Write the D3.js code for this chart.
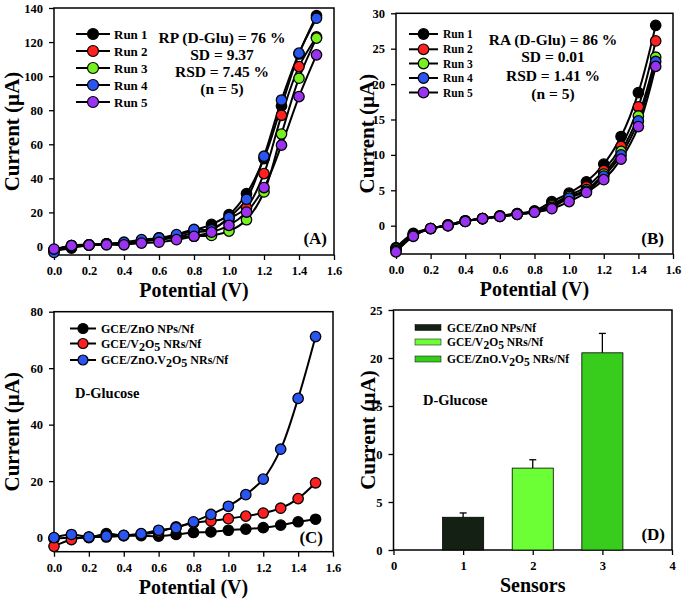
<!DOCTYPE html>
<html><head><meta charset="utf-8">
<script src="https://cdn.jsdelivr.net/npm/d3@7"></script>
<style>body{margin:0;background:#fff}svg{display:block}text{font-family:"Liberation Serif","Times New Roman",serif;font-weight:bold;fill:#000}</style>
</head><body><svg id="c" width="685" height="602"></svg>
<script>
const potentials = [0.0,0.1,0.2,0.3,0.4,0.5,0.6,0.7,0.8,0.9,1.0,1.1,1.2,1.3,1.4,1.5];
const runNames = ["Run 1","Run 2","Run 3","Run 4","Run 5"];
const runColors = ["#000000","#ff2020","#77f020","#2a55f0","#9a33f0"];
// Panel A: repeatability (RP)
const runA1 = [-2.5,-1,0.8,1.5,2,3.5,5,6.5,9.5,13,18.7,31,51.6,82.5,113,135.5];
const runA2 = [-2,0.5,1,1.5,2,3,4.5,5.5,8,10,16.3,22.8,42.8,77,105.6,123];
const runA3 = [-2,0.5,1,1.5,2,3,4,5,6,6.5,9,15.7,32,66,98.8,122.3];
const runA4 = [-3.5,0.5,1,1.5,2.5,4,5,7,10,9.8,17,27.7,53,86,113.5,134];
const runA5 = [-1.5,0.5,0.8,1,1,2,2.5,4,6,8.4,12.4,20.2,34.6,59.5,88,112.5];
// Panel B: reproducibility (RA)
const runB1 = [-3.1,-1.1,-0.4,0.1,0.7,1.0,1.4,1.7,2.1,3.4,4.6,6.2,8.7,12.6,18.8,28.3];
const runB2 = [-3.2,-1.2,-0.4,0.1,0.7,1.0,1.4,1.7,2.0,3.0,4.3,5.5,7.8,11.2,16.8,26.1];
const runB3 = [-3.3,-1.3,-0.4,0.0,0.6,1.0,1.3,1.6,2.0,2.8,4.1,5.1,7.3,10.5,15.5,23.8];
const runB4 = [-3.5,-1.4,-0.4,0.0,0.6,1.0,1.3,1.6,1.9,2.6,3.9,4.9,7.0,10.0,14.8,23.2];
const runB5 = [-3.7,-1.5,-0.4,0.0,0.6,1.0,1.3,1.6,1.9,2.4,3.4,4.7,6.5,9.4,14.0,22.5];
// Panel C: electrodes
const electrodeNames = [["GCE/ZnO NPs/Nf"],["GCE/V","2","O","5"," NRs/Nf"],["GCE/ZnO.V","2","O","5"," NRs/Nf"]];
const electrodeColors = ["#000000","#ff2020","#2a55f0"];
const cZnO = [-0.4,0,0,1.4,0.7,0.7,0.5,1.1,1.8,2,2.6,3,3.5,4.4,5.6,6.5];
const cV2O5 = [-3.1,-0.7,0.2,0.2,0.7,1.2,2,3.8,5.2,5.9,6.7,7.6,8.7,10.4,13.8,19.4];
const cZnOV2O5 = [0,1.1,0.2,0.5,0.8,1.4,2.6,3.5,5.6,8.2,11.1,15.2,20.7,31.3,49.3,71.2];
// Panel D: bars
const sensors = [1,2,3];
const sensorCurrent = [3.41,8.53,20.54];
const sensorError = [0.45,0.87,2.02];
const barColors = ["#142014","#6cff36","#38cc1c"];
const potTicks = [0,0.2,0.4,0.6,0.8,1.0,1.2,1.4,1.6];

const svg = d3.select("#c");

function frame(x, y, xTicks, yTicks, xFmt, yFmt, xTitle, yTitleX) {
  const g = svg.append("g");
  const [x0,x1] = x.range(), [y0,y1] = y.range();
  g.append("g").attr("transform",`translate(0,${y0})`)
    .call(d3.axisBottom(x).tickValues(xTicks).tickFormat(xFmt).tickSize(5).tickPadding(6).tickSizeOuter(0))
    .call(a=>{a.select(".domain").remove();a.selectAll("line").attr("stroke-width",1.3);a.selectAll("text").style("font-size","12.5px");});
  g.append("g").attr("transform",`translate(${x0},0)`)
    .call(d3.axisLeft(y).tickValues(yTicks).tickFormat(yFmt).tickSize(5).tickPadding(6).tickSizeOuter(0))
    .call(a=>{a.select(".domain").remove();a.selectAll("line").attr("stroke-width",1.3);a.selectAll("text").style("font-size","12.5px");});
  g.append("rect").attr("x",x0).attr("y",y1).attr("width",x1-x0).attr("height",y0-y1)
    .attr("fill","none").attr("stroke","#000").attr("stroke-width",1.5);
  g.append("text").attr("x",(x0+x1)/2).attr("y",y0+42).attr("text-anchor","middle")
    .style("font-size","20px").text(xTitle);
  g.append("text").attr("transform",`translate(${yTitleX},${(y0+y1)/2}) rotate(-90)`)
    .attr("text-anchor","middle").attr("dy","0.35em").style("font-size","21px").text("Current (µA)");
}

function series(x, y, data, colors, r) {
  const line = d3.line().x((d,i)=>x(potentials[i])).y(d=>y(d)).curve(d3.curveCatmullRom.alpha(0.5));
  data.forEach((vals,k)=>{
    svg.append("path").attr("d",line(vals)).attr("fill","none").attr("stroke","#000").attr("stroke-width",2);
  });
  data.forEach((vals,k)=>{
    svg.append("g").selectAll("circle").data(vals).join("circle")
      .attr("cx",(d,i)=>x(potentials[i])).attr("cy",d=>y(d)).attr("r",r)
      .attr("fill",colors[k]).attr("stroke","#000").attr("stroke-width",1.3);
  });
}

function lineLegend(names, colors, lx0, lx1, tx, ys, fs, r) {
  names.forEach((n,k)=>{
    svg.append("line").attr("x1",lx0).attr("x2",lx1).attr("y1",ys[k]).attr("y2",ys[k]).attr("stroke","#000").attr("stroke-width",2);
    svg.append("circle").attr("cx",(lx0+lx1)/2).attr("cy",ys[k]).attr("r",r).attr("fill",colors[k]).attr("stroke","#000").attr("stroke-width",1.2);
    const t = svg.append("text").attr("x",tx).attr("y",ys[k]).attr("dy","0.35em").style("font-size",fs+"px");
    writeSub(t, Array.isArray(n)?n:[n]);
  });
}
function writeSub(t, parts){
  parts.forEach((p,i)=>{
    const isSub = /^[0-9]$/.test(p) && i>0;
    t.append("tspan").text(p).attr("dy", isSub ? (i>0 && /^[0-9]$/.test(parts[i-1])?null:"0.25em") : (i>0 && /^[0-9]$/.test(parts[i-1]) ? "-0.25em":null));
  });
}

function annot(cx, ys, lines, fs){
  lines.forEach((l,i)=>svg.append("text").attr("x",cx).attr("y",ys[i]).attr("dy","0.35em").attr("text-anchor","middle").style("font-size",fs+"px").text(l));
}

// ---- Panel A ----
const xA = d3.scaleLinear().domain([0,1.6]).range([54,334]);
const yA = d3.scaleLinear().domain([-5,140]).range([255,8]);
frame(xA,yA,potTicks,d3.range(0,141,20),d3.format(".1f"),d3.format("d"),"Potential (V)",12);
series(xA,yA,[runA1,runA2,runA3,runA4,runA5],runColors,5.2);
lineLegend(runNames,runColors,76,110,114,[34,51,68,85,102],13,5.5);
annot(222,[38,55,72,89],["RP (D-Glu) = 76 %","SD = 9.37","RSD = 7.45 %","(n = 5)"],15.5);
svg.append("text").attr("x",327).attr("y",244).attr("text-anchor","end").style("font-size","17px").text("(A)");

// ---- Panel B ----
const xB = d3.scaleLinear().domain([0,1.6]).range([396,673]);
const yB = d3.scaleLinear().domain([-4,30]).range([254,13.3]);
frame(xB,yB,potTicks,d3.range(0,31,5),d3.format(".1f"),d3.format("d"),"Potential (V)",367);
series(xB,yB,[runB1,runB2,runB3,runB4,runB5],runColors,5.2);
lineLegend(runNames,runColors,409,438,443,[34,49.3,63.5,78,92.5],11.5,5.3);
annot(553,[39.5,56.5,76,93.5],["RA (D-Glu) = 86 %","SD = 0.01","RSD = 1.41 %","(n = 5)"],15.5);
svg.append("text").attr("x",664).attr("y",244).attr("text-anchor","end").style("font-size","17px").text("(B)");

// ---- Panel C ----
const xC = d3.scaleLinear().domain([0,1.6]).range([54,333]);
const yC = d3.scaleLinear().domain([-5,80]).range([551.7,311.7]);
frame(xC,yC,potTicks,d3.range(0,81,20),d3.format(".1f"),d3.format("d"),"Potential (V)",12);
series(xC,yC,[cZnO,cV2O5,cZnOV2O5],electrodeColors,5.2);
lineLegend(electrodeNames,electrodeColors,70,96,101,[328.5,343.5,360],12,5);
svg.append("text").attr("x",75).attr("y",393).attr("dy","0.35em").style("font-size","14.5px").text("D-Glucose");
svg.append("text").attr("x",323).attr("y",543).attr("text-anchor","end").style("font-size","17px").text("(C)");

// ---- Panel D ----
const xD = d3.scaleLinear().domain([0,4]).range([393.5,672]);
const yD = d3.scaleLinear().domain([0,25]).range([550,310]);
frame(xD,yD,[0,1,2,3,4],d3.range(0,26,5),d3.format("d"),d3.format("d"),"Sensors",368);
const bw = xD(0.59)-xD(0);
svg.append("g").selectAll("line.err").data(sensors).join("line")
  .attr("x1",d=>xD(d)).attr("x2",d=>xD(d)).attr("y1",(d,i)=>yD(sensorCurrent[i])).attr("y2",(d,i)=>yD(sensorCurrent[i]+sensorError[i]))
  .attr("stroke","#000").attr("stroke-width",1.3);
svg.append("g").selectAll("line.cap").data(sensors).join("line")
  .attr("x1",d=>xD(d)-3.5).attr("x2",d=>xD(d)+3.5).attr("y1",(d,i)=>yD(sensorCurrent[i]+sensorError[i])).attr("y2",(d,i)=>yD(sensorCurrent[i]+sensorError[i]))
  .attr("stroke","#000").attr("stroke-width",1.3);
svg.append("g").selectAll("rect").data(sensors).join("rect")
  .attr("x",d=>xD(d)-bw/2).attr("width",bw).attr("y",(d,i)=>yD(sensorCurrent[i])).attr("height",(d,i)=>yD(0)-yD(sensorCurrent[i]))
  .attr("fill",(d,i)=>barColors[i]).attr("stroke","#000").attr("stroke-width",0.8);
[327.5,342,359].forEach((yy,k)=>{
  svg.append("rect").attr("x",415).attr("y",yy-3).attr("width",26).attr("height",6).attr("fill",barColors[k]).attr("stroke","#000").attr("stroke-width",0.5);
  const t = svg.append("text").attr("x",447).attr("y",yy).attr("dy","0.35em").style("font-size","11.5px");
  writeSub(t, electrodeNames[k]);
});
svg.append("text").attr("x",423).attr("y",400).attr("dy","0.35em").style("font-size","14.5px").text("D-Glucose");
svg.append("text").attr("x",665).attr("y",540).attr("text-anchor","end").style("font-size","17px").text("(D)");
</script></body></html>
